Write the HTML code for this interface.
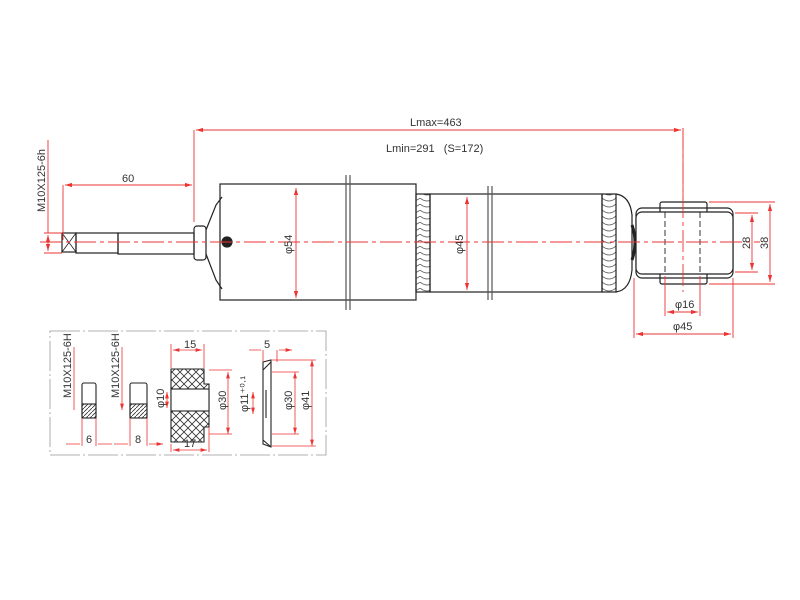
<!DOCTYPE html>
<html><head><meta charset="utf-8"><style>html,body{margin:0;padding:0;background:#fff}svg{display:block}text{font-family:"Liberation Sans Narrow","Liberation Sans",sans-serif;font-size:11px;fill:#333}</style></head>
<body>
<svg width="800" height="600" viewBox="0 0 800 600" xmlns="http://www.w3.org/2000/svg">
<defs>
<marker id="a" viewBox="0 0 10 6" refX="10" refY="3" markerWidth="8" markerHeight="5" orient="auto-start-reverse"><path d="M0,0L10,3L0,6z" fill="#e33"/></marker>
<pattern id="x" width="8" height="8" patternUnits="userSpaceOnUse"><path d="M0,0L8,8M8,0L0,8" stroke="#333" stroke-width="0.8"/></pattern>
<pattern id="h" width="4" height="4" patternUnits="userSpaceOnUse"><path d="M0,4L4,0" stroke="#333" stroke-width="0.8"/></pattern>
<pattern id="k" width="14" height="6" patternUnits="userSpaceOnUse"><path d="M0,0Q7,6 14,0" stroke="#555" fill="none" stroke-width="0.8"/></pattern>
</defs>
<g stroke="#222" stroke-width="1.2" fill="none">
<!-- rod end -->
<rect x="62" y="233" width="14" height="19"/><path d="M62,233L76,252M76,233L62,252" stroke-width="0.8"/>
<rect x="76" y="233" width="42" height="20"/>
<rect x="118" y="233" width="76" height="21"/>
<rect x="194" y="226" width="12" height="34" rx="3"/>
<path d="M206,230L216,205L222,197M206,254L216,280L222,289"/>
<rect x="220" y="184" width="196" height="116"/>
<circle cx="227" cy="242" r="5" fill="#222"/>
<path d="M346,175V310M350,175V310" stroke="#555"/>
<rect x="416" y="194" width="14" height="98" fill="url(#k)"/>
<rect x="430" y="194" width="172" height="98"/>
<path d="M488,186V300M492,186V300" stroke="#555"/>
<rect x="602" y="194" width="14" height="98" fill="url(#k)"/>
<path d="M616,194Q630,196 632,215V270Q630,290 616,292"/>
<path d="M632,225Q638,242 632,260" stroke-width="3"/>
<rect x="636" y="208" width="97" height="70" rx="6"/>
<rect x="660" y="202" width="47" height="82" rx="2"/>
<rect x="636" y="212" width="97" height="62" rx="6" fill="#fff"/>
<path d="M665,212V274M700,212V274" stroke-dasharray="6,3" stroke-width="0.9"/>
</g>
<!-- red dims -->
<g stroke="#e33" stroke-width="0.9" fill="none">
<path d="M40,242H760" stroke-dasharray="22,4,4,4"/>
<path d="M683,128V292" stroke-dasharray="22,4,4,4"/>
<path d="M194,130V222M63,185V240M683,128V200"/>
<path d="M196,130H681" marker-start="url(#a)" marker-end="url(#a)"/>
<path d="M65,185H192" marker-start="url(#a)" marker-end="url(#a)"/>
<path d="M48,235V251" marker-start="url(#a)" marker-end="url(#a)"/>
<path d="M44,233H62M44,253H62M48,140V233"/>
<path d="M296,188V298" marker-start="url(#a)" marker-end="url(#a)"/>
<path d="M467,197V290" marker-start="url(#a)" marker-end="url(#a)"/>
<path d="M735,213H758M735,272H758M709,202H775M709,284H775"/>
<path d="M752,215V270" marker-start="url(#a)" marker-end="url(#a)"/>
<path d="M770,204V282" marker-start="url(#a)" marker-end="url(#a)"/>
<path d="M665,276V316M700,276V316M634,278V338M733,278V338"/>
<path d="M667,312H698" marker-start="url(#a)" marker-end="url(#a)"/>
<path d="M636,334H731" marker-start="url(#a)" marker-end="url(#a)"/>
</g>
<text x="410" y="126">Lmax=463</text>
<text x="386" y="152">Lmin=291&#160;&#160;&#160;(S=172)</text>
<text x="122" y="182">60</text>
<text transform="translate(45,212) rotate(-90)">M10X125-6h</text>
<text transform="translate(292,254) rotate(-90)">φ54</text>
<text transform="translate(463,254) rotate(-90)">φ45</text>
<text transform="translate(750,249) rotate(-90)">28</text>
<text transform="translate(768,249) rotate(-90)">38</text>
<text x="675" y="308">φ16</text>
<text x="673" y="330">φ45</text>
<!-- inset -->
<rect x="50" y="331" width="276" height="124" fill="none" stroke="#999" stroke-width="0.8" stroke-dasharray="30,3,2,3"/>
<g stroke="#222" stroke-width="1.1" fill="none">
<rect x="82" y="383" width="14" height="35" rx="2"/><rect x="82" y="404" width="14" height="14" fill="url(#h)"/>
<rect x="130" y="383" width="17" height="35" rx="2"/><rect x="130" y="404" width="17" height="14" fill="url(#h)"/>
<path d="M171,369H204V384H209V427H204V442H171Z" fill="url(#x)"/>
<rect x="171" y="389" width="38" height="22" fill="#fff"/>
<path d="M263,362L271,360V447L263,444Z" fill="#fff"/>
<path d="M263,370L271,362M263,440L271,447M266,390V418"/>
</g>
<g stroke="#e33" stroke-width="0.8" fill="none">
<path d="M74,347V410M122,347V410" marker-end="url(#a)"/>
<path d="M82,418V446M96,418V446M130,418V446M147,418V446M171,344V368M204,344V368M171,444V452M209,427V452M263,350V362M277,350V362"/>
<path d="M66,444H80M98,444H112M114,444H128M149,444H163" marker-end="url(#a)"/>
<path d="M173,350H202" marker-start="url(#a)" marker-end="url(#a)"/>
<path d="M173,450H207" marker-start="url(#a)" marker-end="url(#a)"/>
<path d="M167,392V408" marker-start="url(#a)" marker-end="url(#a)"/>
<path d="M228,372V434" marker-start="url(#a)" marker-end="url(#a)"/>
<path d="M253,392V414" marker-start="url(#a)" marker-end="url(#a)"/>
<path d="M295,372V434" marker-start="url(#a)" marker-end="url(#a)"/>
<path d="M312,360V446" marker-start="url(#a)" marker-end="url(#a)"/>
<path d="M209,370H232M209,434H232M272,372H299M272,434H299M272,360H316M272,446H316"/>
<path d="M249,350H261M279,350H292" marker-end="url(#a)"/>
</g>
<g style="font-size:9px">
<text transform="translate(71,398) rotate(-90)">M10X125-6H</text>
<text transform="translate(119,398) rotate(-90)">M10X125-6H</text>
<text x="86" y="443">6</text><text x="135" y="443">8</text>
<text x="184" y="348">15</text><text x="184" y="447">17</text>
<text x="264" y="348">5</text>
<text transform="translate(164,408) rotate(-90)">φ10</text>
<text transform="translate(226,410) rotate(-90)">φ30</text>
<text transform="translate(248,412) rotate(-90)">φ11⁺⁰·¹</text>
<text transform="translate(292,410) rotate(-90)">φ30</text>
<text transform="translate(309,410) rotate(-90)">φ41</text>
</g>
</svg>
</body></html>
